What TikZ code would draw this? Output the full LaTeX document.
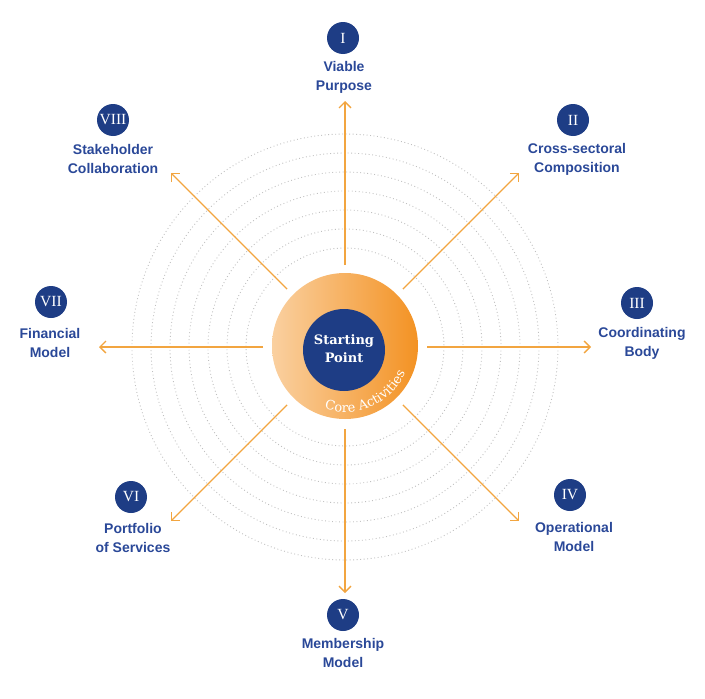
\documentclass[tikz,border=0pt]{standalone}
\usepackage{fontspec}
\setmainfont{Liberation Sans}
\newfontfamily\numserif{Liberation Serif}
\newfontfamily\coreserif{DejaVu Serif}
\usetikzlibrary{arrows.meta,decorations.text,calc}
\definecolor{navy}{RGB}{30,61,133}
\definecolor{lblue}{RGB}{42,72,152}
\definecolor{arr}{RGB}{242,165,64}
\definecolor{orlight}{RGB}{250,208,160}
\definecolor{ormid}{RGB}{246,176,98}
\definecolor{ordark}{RGB}{243,146,35}
\definecolor{dotgray}{RGB}{192,192,192}
\begin{document}
\begin{tikzpicture}[x=1pt,y=-1pt,
  numc/.style={circle,fill=navy,minimum size=32pt,inner sep=0pt,text=white,font=\numserif\fontsize{15.5}{15.5}\selectfont},
  lbl/.style={align=center,text=lblue,font=\bfseries\fontsize{14}{19}\selectfont,inner sep=0pt},
  arrline/.style={draw=arr,line width=1.4pt,-{Straight Barb[length=6pt,width=12pt]}},
  ring/.style={draw=dotgray,line width=0.9pt,dash pattern=on 0.9pt off 2.6pt}]
\useasboundingbox (0,0) rectangle (705,699);
\coordinate (o) at (345,347);
\foreach \rr in {99,118,...,213} \draw[ring] (o) circle[radius=\rr];
% arrows
\foreach \ang in {0,45,...,315}{
  \coordinate (s\ang) at ($(o)+(\ang:82)$);
  \coordinate (e\ang) at ($(o)+(\ang:246)$);
  \draw[arrline] (s\ang) -- (e\ang);
}
% core disk
\node[circle,minimum size=146pt,inner sep=0pt,left color=orlight,middle color=ormid,right color=ordark] (core) at (345,346) {};
\node[circle,fill=navy,minimum size=82pt,inner sep=0pt] (sp) at (344,350) {};
\node[align=center,text=white,font=\coreserif\bfseries\fontsize{13}{18}\selectfont,inner sep=0pt] (spt) at (344,349) {Starting\\Point};
\path[decorate,decoration={text along path,text align=center,
  text={|\coreserif\fontsize{13}{13}\selectfont\color{white}|Core Activities}}]
  ($(core.center)+(112:66)$) arc[start angle=112,end angle=20,radius=66];
% numerals
\node[numc] (n1) at (343,38) {I};
\node[numc] (n2) at (573,120) {II};
\node[numc] (n3) at (637,303) {III};
\node[numc] (n4) at (570,495) {IV};
\node[numc] (n5) at (343,615) {V};
\node[numc] (n6) at (131,497) {VI};
\node[numc] (n7) at (51,302) {VII};
\node[numc] (n8) at (113,120) {VIII};
% labels
\node[lbl] (l1) at (344,77) {Viable\\Purpose};
\node[lbl] (l2) at (577,159) {Cross-sectoral\\Composition};
\node[lbl] (l3) at (642,343) {Coordinating\\Body};
\node[lbl] (l4) at (574,537) {Operational\\Model};
\node[lbl] (l5) at (343,653) {Membership\\Model};
\node[lbl] (l6) at (133,538) {Portfolio\\of Services};
\node[lbl] (l7) at (50,343) {Financial\\Model};
\node[lbl] (l8) at (113,159) {Stakeholder\\Collaboration};
\end{tikzpicture}
\end{document}
